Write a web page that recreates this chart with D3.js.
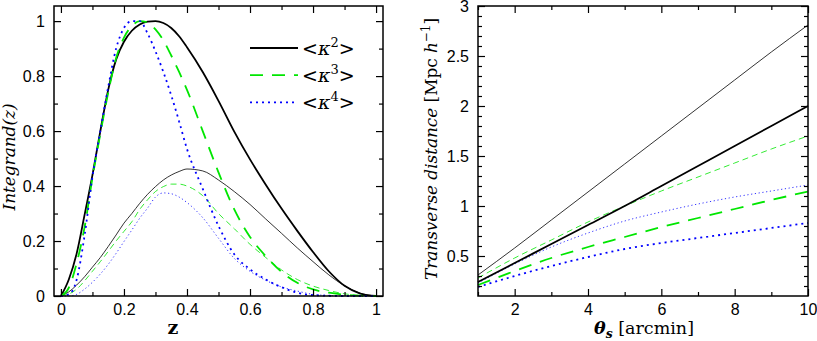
<!DOCTYPE html>
<html>
<head>
<meta charset="utf-8">
<script src="https://cdn.jsdelivr.net/npm/d3@7"></script>
<style>
  body { margin: 0; background: #fff; }
  .tick text { font-family: "Liberation Sans", Arial, sans-serif; font-size: 16px; fill: #000; }
  .tick line { stroke: #000; stroke-width: 1.2; }
  .axis-title { font-family: "DejaVu Serif", "Liberation Serif", serif; fill: #000; }
  .legend-label { font-family: "DejaVu Serif", "Liberation Serif", serif; font-size: 19px; fill: #000; }
</style>
</head>
<body>
<svg id="chart"></svg>
<script>
// ---- left panel: integrand vs redshift ----
const zValues = [0, 0.025, 0.05, 0.075, 0.1, 0.125, 0.15, 0.175, 0.2, 0.225, 0.25, 0.275, 0.3, 0.325,
  0.35, 0.375, 0.4, 0.45, 0.5, 0.55, 0.6, 0.65, 0.7, 0.75, 0.8, 0.85, 0.9, 0.95, 1];

const k2Thick = [0, 0.06, 0.155, 0.295, 0.44, 0.6, 0.75, 0.86, 0.925, 0.965, 0.988, 0.998, 1.0, 0.993,
  0.975, 0.945, 0.905, 0.815, 0.71, 0.598, 0.497, 0.405, 0.318, 0.237, 0.16, 0.09, 0.037, 0.009, 0];
const k3Thick = [0, 0.03, 0.12, 0.25, 0.43, 0.59, 0.74, 0.865, 0.94, 0.982, 1.0, 0.995, 0.97, 0.93,
  0.875, 0.815, 0.75, 0.6, 0.45, 0.315, 0.215, 0.145, 0.088, 0.048, 0.024, 0.012, 0.005, 0.001, 0];
const k4Thick = [0, 0.006, 0.06, 0.22, 0.434, 0.6, 0.76, 0.9, 0.975, 1.0, 1.0, 0.955, 0.89, 0.815,
  0.73, 0.635, 0.535, 0.39, 0.255, 0.152, 0.097, 0.06, 0.032, 0.012, 0.003, 0.001, 0, 0, 0];
const k2Thin = [0, 0.015, 0.04, 0.07, 0.105, 0.14, 0.18, 0.222, 0.265, 0.3, 0.337, 0.37, 0.398, 0.422,
  0.44, 0.453, 0.462, 0.455, 0.422, 0.38, 0.333, 0.28, 0.228, 0.175, 0.125, 0.077, 0.037, 0.01, 0];
const k3Thin = [0, 0.007, 0.025, 0.055, 0.09, 0.125, 0.162, 0.2, 0.235, 0.27, 0.315, 0.35, 0.38, 0.398,
  0.407, 0.407, 0.4, 0.365, 0.3, 0.245, 0.188, 0.14, 0.095, 0.06, 0.036, 0.02, 0.008, 0.002, 0];
const k4Thin = [0, 0, 0.006, 0.025, 0.05, 0.08, 0.115, 0.155, 0.198, 0.24, 0.283, 0.32, 0.36, 0.375,
  0.372, 0.36, 0.34, 0.285, 0.21, 0.137, 0.09, 0.057, 0.033, 0.018, 0.006, 0.002, 0, 0, 0];

const zMajorTicks = [0, 0.2, 0.4, 0.6, 0.8, 1];
const integrandTicks = [0, 0.2, 0.4, 0.6, 0.8, 1];
const legendLabels = ["2", "3", "4"];

// ---- right panel: transverse distance vs smoothing angle ----
const thetaValues = [1, 2, 3, 4, 5, 6, 7, 8, 9, 10];
const dist2Thick = [0.24, 0.43, 0.62, 0.81, 1.0, 1.2, 1.4, 1.6, 1.8, 2.0];
const dist3Thick = [0.21, 0.35, 0.48, 0.59, 0.69, 0.79, 0.88, 0.97, 1.06, 1.145];
const dist4Thick = [0.19, 0.3, 0.4, 0.49, 0.57, 0.63, 0.68, 0.73, 0.78, 0.83];
const dist2Thin = [0.31, 0.58, 0.86, 1.14, 1.42, 1.7, 1.98, 2.26, 2.54, 2.81];
const dist3Thin = [0.28, 0.48, 0.66, 0.84, 1.0, 1.15, 1.29, 1.43, 1.57, 1.7];
const dist4Thin = [0.23, 0.42, 0.59, 0.73, 0.85, 0.94, 1.02, 1.09, 1.15, 1.21];

const thetaTicks = [2, 4, 6, 8, 10];
const distanceTicks = [0.5, 1, 1.5, 2, 2.5, 3];

// line styles per moment order
const styles = {
  k2: {color: "#000", dash: null, thinDash: null},
  k3: {color: "#00e600", dash: "13,9", thinDash: "6,4"},
  k4: {color: "#0000ff", dash: "2,4", thinDash: "1.2,2.6"}
};

const svg = d3.select("#chart").attr("width", 817).attr("height", 341);

function makePanel(left, top, width, height, xDomain, yDomain) {
  const g = svg.append("g").attr("transform", `translate(${left},${top})`);
  const x = d3.scaleLinear().domain(xDomain).range([0, width]);
  const y = d3.scaleLinear().domain(yDomain).range([height, 0]);
  return {g, x, y, width, height};
}

function drawAxes(p, xMajor, xMinor, yMajor, yMinor) {
  const strip = sel => sel.select(".domain").remove();
  p.g.append("g").attr("transform", `translate(0,${p.height})`)
      .call(d3.axisBottom(p.x).tickValues(xMajor).tickSize(-7).tickPadding(8).tickFormat(d3.format("")))
      .call(strip);
  p.g.append("g").attr("transform", `translate(0,${p.height})`)
      .call(d3.axisBottom(p.x).tickValues(xMinor).tickSize(-4).tickFormat(""))
      .call(strip);
  p.g.append("g")
      .call(d3.axisTop(p.x).tickValues(xMajor).tickSize(-7).tickFormat(""))
      .call(strip);
  p.g.append("g")
      .call(d3.axisTop(p.x).tickValues(xMinor).tickSize(-4).tickFormat(""))
      .call(strip);
  p.g.append("g")
      .call(d3.axisLeft(p.y).tickValues(yMajor).tickSize(-7).tickPadding(9).tickFormat(d3.format("")))
      .call(strip);
  p.g.append("g")
      .call(d3.axisLeft(p.y).tickValues(yMinor).tickSize(-4).tickFormat(""))
      .call(strip);
  p.g.append("g").attr("transform", `translate(${p.width},0)`)
      .call(d3.axisRight(p.y).tickValues(yMajor).tickSize(-7).tickFormat(""))
      .call(strip);
  p.g.append("g").attr("transform", `translate(${p.width},0)`)
      .call(d3.axisRight(p.y).tickValues(yMinor).tickSize(-4).tickFormat(""))
      .call(strip);
  p.g.append("rect")
      .attr("width", p.width).attr("height", p.height)
      .attr("fill", "none").attr("stroke", "#000").attr("stroke-width", 1.5);
}

function drawCurve(p, xs, ys, style, thick) {
  const line = d3.line()
      .x((d, i) => p.x(xs[i]))
      .y(d => p.y(d))
      .curve(d3.curveMonotoneX);
  p.g.append("path")
      .datum(ys)
      .attr("fill", "none")
      .attr("stroke", style.color)
      .attr("stroke-width", thick ? 1.8 : 0.8)
      .attr("stroke-dasharray", thick ? style.dash : style.thinDash)
      .attr("d", line);
}

// ---------- left panel ----------
const left = makePanel(54, 6, 329, 290, [-0.022, 1.022], [0, 1.055]);
const zMinor = [0.1, 0.3, 0.5, 0.7, 0.9];
const yMinorLeft = [0.1, 0.3, 0.5, 0.7, 0.9];

drawCurve(left, zValues, k2Thin, styles.k2, false);
drawCurve(left, zValues, k3Thin, styles.k3, false);
drawCurve(left, zValues, k4Thin, styles.k4, false);
drawCurve(left, zValues, k2Thick, styles.k2, true);
drawCurve(left, zValues, k3Thick, styles.k3, true);
drawCurve(left, zValues, k4Thick, styles.k4, true);
drawAxes(left, zMajorTicks, zMinor, integrandTicks, yMinorLeft);

// legend
const legend = left.g.append("g").attr("transform", "translate(196,42)");
[styles.k2, styles.k3, styles.k4].forEach((s, i) => {
  const row = legend.append("g").attr("transform", `translate(0,${i * 27.2})`);
  row.append("line")
      .attr("x1", 0).attr("x2", 48)
      .attr("stroke", s.color).attr("stroke-width", 1.8)
      .attr("stroke-dasharray", s.dash);
  const t = row.append("text").attr("class", "legend-label").attr("x", 52).attr("y", 7);
  t.append("tspan").text("<");
  t.append("tspan").attr("font-style", "italic").text("κ");
  t.append("tspan").attr("dy", -8).attr("font-size", 13).text(legendLabels[i]);
  t.append("tspan").attr("dy", 8).text(">");
});

left.g.append("text")
    .attr("class", "axis-title")
    .attr("x", 119).attr("y", 328)
    .attr("text-anchor", "middle")
    .attr("font-weight", "bold")
    .attr("font-size", 19)
    .text("z");

left.g.append("text")
    .attr("class", "axis-title")
    .attr("transform", "translate(-39,151) rotate(-90)")
    .attr("text-anchor", "middle")
    .attr("font-style", "italic")
    .attr("font-size", 17)
    .attr("textLength", 107)
    .attr("lengthAdjust", "spacingAndGlyphs")
    .text("Integrand(z)");

// ---------- right panel ----------
const right = makePanel(478, 6, 330, 290, [1, 10], [0.1, 3]);
const thetaMinor = [1, 3, 5, 7, 9];
const yMinorRight = d3.range(2, 30).map(d => d / 10).filter(d => Math.abs(d * 2 - Math.round(d * 2)) > 1e-6);

drawCurve(right, thetaValues, dist2Thin, styles.k2, false);
drawCurve(right, thetaValues, dist3Thin, styles.k3, false);
drawCurve(right, thetaValues, dist4Thin, styles.k4, false);
drawCurve(right, thetaValues, dist2Thick, styles.k2, true);
drawCurve(right, thetaValues, dist3Thick, styles.k3, true);
drawCurve(right, thetaValues, dist4Thick, styles.k4, true);
drawAxes(right, thetaTicks, thetaMinor, distanceTicks, yMinorRight);

const xt = right.g.append("text")
    .attr("class", "axis-title")
    .attr("x", 166).attr("y", 328)
    .attr("text-anchor", "middle")
    .attr("font-size", 17)
    .attr("textLength", 100)
    .attr("lengthAdjust", "spacingAndGlyphs");
xt.append("tspan").attr("font-style", "italic").attr("font-weight", "bold").text("θ");
xt.append("tspan").attr("font-style", "italic").attr("font-weight", "bold").attr("font-size", 12).attr("dy", 4).text("s");
xt.append("tspan").attr("dy", -4).text(" [arcmin]");

const yt = right.g.append("text")
    .attr("class", "axis-title")
    .attr("transform", "translate(-41,143) rotate(-90)")
    .attr("text-anchor", "middle")
    .attr("font-size", 17)
    .attr("textLength", 262)
    .attr("lengthAdjust", "spacingAndGlyphs");
yt.append("tspan").attr("font-style", "italic").text("Transverse distance");
yt.append("tspan").text(" [Mpc ");
yt.append("tspan").attr("font-style", "italic").text("h");
yt.append("tspan").attr("dy", -7).attr("font-size", 12).text("−1");
yt.append("tspan").attr("dy", 7).text("]");
</script>
</body>
</html>
